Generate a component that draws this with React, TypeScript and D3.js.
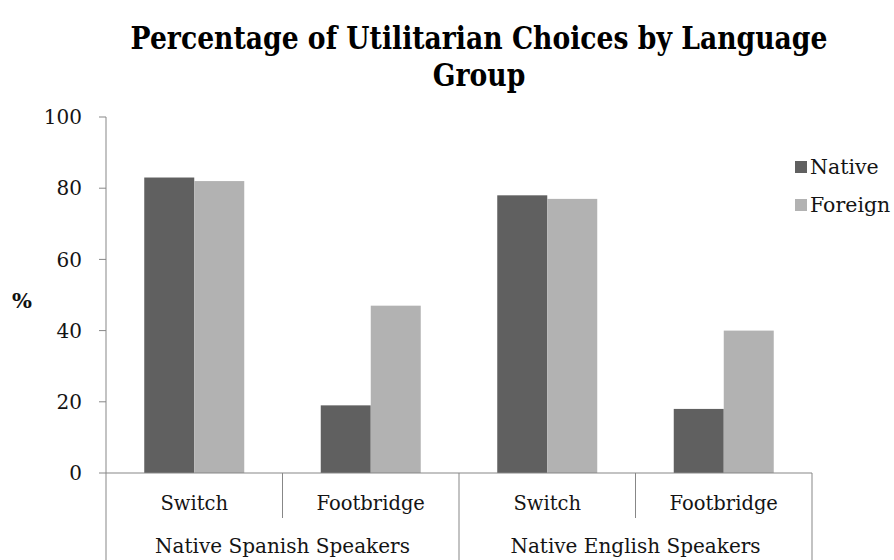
import React from "react";
import * as d3 from "d3";

const categories = ["Switch", "Footbridge", "Switch ", "Footbridge "];
const categoryLabels = ["Switch", "Footbridge", "Switch", "Footbridge"];
const groups = ["Native Spanish Speakers", "Native English Speakers"];
const seriesNames = ["Native", "Foreign"];
const nativeValues = [83, 19, 78, 18];
const foreignValues = [82, 47, 77, 40];
const yTicks = [0, 20, 40, 60, 80, 100];
const titleLines = ["Percentage of Utilitarian Choices by Language", "Group"];

const colors = ["#606060", "#b2b2b2"];
const W = 894;
const H = 560;
const left = 106;
const right = 812;
const top = 117;
const bottom = 473;
const font = "'DejaVu Serif', serif";

function measure(text: string, size: number, weight: string) {
  if (typeof document === "undefined") return text.length * size * 0.65;
  const ctx = document.createElement("canvas").getContext("2d");
  if (!ctx) return text.length * size * 0.65;
  ctx.font = `${weight} ${size}px 'DejaVu Serif', serif`;
  return ctx.measureText(text).width;
}

export default function App() {
  const x = d3.scaleBand<string>().domain(categories).range([left, right]).paddingInner(0).paddingOuter(0);
  const inner = d3.scaleBand<string>().domain(seriesNames).range([0, x.bandwidth()]).paddingInner(0).paddingOuter(0.765);
  const y = d3.scaleLinear().domain([0, 100]).range([bottom, top]);
  const series = [nativeValues, foreignValues];
  const axisColor = "#878787";
  const groupWidth = (right - left) / groups.length;
  const txt = "#141414";

  const titleSize = 32;
  const sx = 697 / measure(titleLines[0], titleSize, "bold");
  const groupSx = 255 / measure(groups[0], 20, "normal");

  return (
    <svg width={W} height={H} style={{ position: "absolute", left: 0, top: 0, background: "#fff" }}>
      <rect width={W} height={H} fill="#fff" />
      {/* title */}
      <g transform={`translate(479,0) scale(${sx},1)`}>
        <text x={0} y={49} textAnchor="middle" fontFamily={font} fontWeight="bold" fontSize={titleSize} fill="#000">{titleLines[0]}</text>
        <text x={0} y={86} textAnchor="middle" fontFamily={font} fontWeight="bold" fontSize={titleSize} fill="#000">{titleLines[1]}</text>
      </g>

      {/* y axis */}
      <line x1={left} x2={left} y1={top} y2={H} stroke={axisColor} strokeWidth={1} />
      {yTicks.map((t) => (
        <g key={t}>
          <line x1={left - 7} x2={left} y1={y(t)} y2={y(t)} stroke={axisColor} />
          <text x={82} y={y(t)} dy="0.36em" textAnchor="end" fontFamily={font} fontSize={20} fill={txt}>{t}</text>
        </g>
      ))}
      <text x={22} y={300} dy="0.36em" textAnchor="middle" fontFamily={font} fontWeight="bold" fontSize={21} fill="#111">%</text>

      {/* bars */}
      {series.map((vals, si) =>
        categories.map((c, ci) => (
          <rect key={`${si}-${ci}`} x={(x(c) as number) + (inner(seriesNames[si]) as number)} y={y(vals[ci])}
            width={inner.bandwidth()} height={y(0) - y(vals[ci])} fill={colors[si]} />
        ))
      )}

      {/* x axis */}
      <line x1={left} x2={right} y1={bottom} y2={bottom} stroke={axisColor} />
      {categories.map((c, i) => (
        <g key={c}>
          {i % 2 === 1 && (
            <line x1={x(c)} x2={x(c)} y1={bottom} y2={518} stroke={axisColor} />
          )}
          <text x={(x(c) as number) + x.bandwidth() / 2} y={510} textAnchor="middle" fontFamily={font} fontSize={19.5} fill={txt}>{categoryLabels[i]}</text>
        </g>
      ))}
      {groups.map((g, i) => (
        <g key={g}>
          <line x1={left + groupWidth * (i + 1)} x2={left + groupWidth * (i + 1)} y1={bottom} y2={H} stroke={axisColor} />
          <g transform={`translate(${left + groupWidth * (i + 0.5)},0) scale(${groupSx},1)`}>
            <text x={0} y={553} textAnchor="middle" fontFamily={font} fontSize={20} fill={txt}>{g}</text>
          </g>
        </g>
      ))}

      {/* legend */}
      {seriesNames.map((s, i) => (
        <g key={s} transform={`translate(795, ${167 + i * 38})`}>
          <rect x={0} y={-6} width={12} height={12} fill={colors[i]} />
          <text x={15} y={0} dy="0.36em" fontFamily={font} fontSize={20.5} fill={txt}>{s}</text>
        </g>
      ))}
    </svg>
  );
}
